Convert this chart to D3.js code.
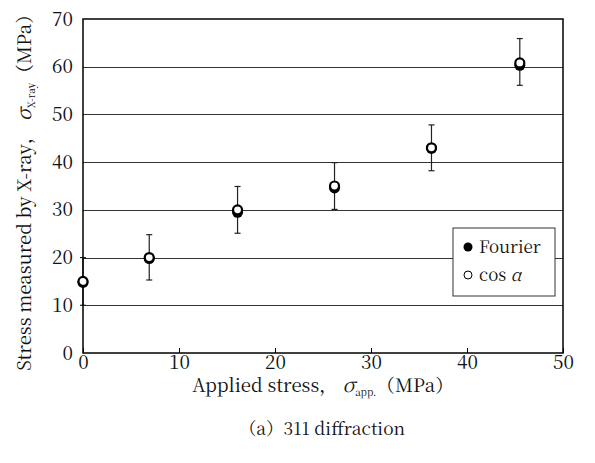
<!DOCTYPE html>
<html>
<head>
<meta charset="utf-8">
<script src="https://cdn.jsdelivr.net/npm/d3@7"></script>
<style>
  body { margin: 0; background: #fff; }
</style>
</head>
<body>
<div id="chart-area"></div>
<script>
// data
const appliedStress = [0, 6.9, 16.1, 26.2, 36.3, 45.5]
const fourier = [14.8, 19.8, 29.5, 34.6, 42.9, 60.3]
const cosAlpha = [15, 20, 30, 35, 43, 60.8]
const errLow = [10, 15.3, 25.1, 30.1, 38.2, 56.1]
const errHigh = [20, 24.8, 34.9, 39.9, 47.8, 65.9]
const xTicks = [0, 10, 20, 30, 40, 50]
const yTicks = [0, 10, 20, 30, 40, 50, 60, 70]

const serif = "'Noto Serif CJK JP', 'Liberation Serif', serif"

const chartMargin = { left: 83, right: 32, top: 19, bottom: 110 }
const chartWidth = 595 - chartMargin.left - chartMargin.right
const chartHeight = 463 - chartMargin.top - chartMargin.bottom

const svg = d3.select("#chart-area").append("svg")
  .attr("width", 595)
  .attr("height", 463)

const g = svg.append("g")
  .attr("transform", `translate(${chartMargin.left}, ${chartMargin.top})`)

const x = d3.scaleLinear().domain([0, 50]).range([0, chartWidth])
const y = d3.scaleLinear().domain([0, 70]).range([chartHeight, 0])

// grid lines
g.selectAll(".grid")
  .data(yTicks.filter(d => d > 0 && d < 70))
  .enter().append("line")
  .attr("x1", 0)
  .attr("x2", chartWidth)
  .attr("y1", d => Math.round(y(d)) + 0.5)
  .attr("y2", d => Math.round(y(d)) + 0.5)
  .attr("stroke", "#333")
  .attr("stroke-width", 1)

// x ticks (inward) and labels
const xAxisCall = d3.axisBottom(x)
  .tickValues(xTicks)
  .tickSizeInner(-5)
  .tickSizeOuter(0)
  .tickPadding(2)
const xAxis = g.append("g")
  .attr("transform", `translate(0, ${chartHeight})`)
  .call(xAxisCall)
xAxis.select(".domain").remove()
xAxis.selectAll("line").attr("stroke", "#000")
xAxis.selectAll("text")
  .style("font-family", serif)
  .style("font-size", "19px")
  .attr("fill", "#111")

// y labels
const yAxisCall = d3.axisLeft(y)
  .tickValues(yTicks)
  .tickSize(0)
  .tickPadding(10)
const yAxis = g.append("g").call(yAxisCall)
yAxis.select(".domain").remove()
yAxis.selectAll("text")
  .style("font-family", serif)
  .style("font-size", "19px")
  .attr("fill", "#111")

// error bars
const errs = appliedStress.map((d, i) => ({ x: d, lo: errLow[i], hi: errHigh[i] }))
const eb = g.selectAll(".err").data(errs).enter().append("g")
eb.append("line")
  .attr("x1", d => x(d.x)).attr("x2", d => x(d.x))
  .attr("y1", d => y(d.lo)).attr("y2", d => y(d.hi))
  .attr("stroke", "#222").attr("stroke-width", 1.2)
eb.selectAll(".cap").data(d => [[d.x, d.lo], [d.x, d.hi]])
  .enter().append("line")
  .attr("x1", d => x(d[0]) - 3).attr("x2", d => x(d[0]) + 3)
  .attr("y1", d => y(d[1])).attr("y2", d => y(d[1]))
  .attr("stroke", "#222").attr("stroke-width", 1.2)

// frame
g.append("rect")
  .attr("width", chartWidth)
  .attr("height", chartHeight)
  .attr("fill", "none")
  .attr("stroke", "#000")
  .attr("stroke-width", 1.5)

// points
g.selectAll(".fourier").data(appliedStress).enter().append("circle")
  .attr("cx", d => x(d))
  .attr("cy", (d, i) => y(fourier[i]))
  .attr("r", 5.5)
  .attr("fill", "#000")

g.selectAll(".cos").data(appliedStress).enter().append("circle")
  .attr("cx", d => x(d))
  .attr("cy", (d, i) => y(cosAlpha[i]))
  .attr("r", 4.5)
  .attr("fill", "#fff")
  .attr("stroke", "#000")
  .attr("stroke-width", 2.2)

// legend
const legend = g.append("g").attr("transform", "translate(370, 209)")
legend.append("rect")
  .attr("width", 102).attr("height", 68)
  .attr("fill", "#fff").attr("stroke", "#333").attr("stroke-width", 1)
legend.append("circle").attr("cx", 15).attr("cy", 19).attr("r", 4.5).attr("fill", "#000")
legend.append("text").attr("x", 26).attr("y", 25)
  .style("font-family", serif).style("font-size", "17px").attr("fill", "#111")
  .text("Fourier")
legend.append("circle").attr("cx", 15).attr("cy", 47).attr("r", 4)
  .attr("fill", "#fff").attr("stroke", "#000").attr("stroke-width", 1)
const cosText = legend.append("text").attr("x", 26).attr("y", 53)
  .style("font-family", serif).style("font-size", "17px").attr("fill", "#111")
cosText.append("tspan").text("cos ")
cosText.append("tspan").style("font-style", "italic").text("α")

// axis titles
const xTitle = svg.append("text")
  .attr("x", 323).attr("y", 392)
  .attr("text-anchor", "middle")
  .style("font-family", serif).style("font-size", "18.6px").attr("fill", "#111")
xTitle.append("tspan").text("Applied stress， ")
xTitle.append("tspan").style("font-style", "italic").style("font-size", "20px").text("σ")
xTitle.append("tspan").style("font-size", "10px").attr("dy", 4).text("app.")
xTitle.append("tspan").attr("dy", -4).text("（MPa）")

const yTitle = svg.append("text")
  .attr("transform", "translate(31, 188) rotate(-90)")
  .attr("text-anchor", "middle")
  .style("font-family", serif).style("font-size", "18.6px").attr("fill", "#111")
yTitle.append("tspan").text("Stress measured by X-ray， ")
yTitle.append("tspan").style("font-style", "italic").style("font-size", "20px").text("σ")
yTitle.append("tspan").style("font-size", "10px").attr("dy", 4).text("X-ray")
yTitle.append("tspan").attr("dy", -4).text("（MPa）")

svg.append("text")
  .attr("x", 322).attr("y", 435)
  .attr("text-anchor", "middle")
  .style("font-family", serif).style("font-size", "17.5px").attr("fill", "#111")
  .text("（a）311 diffraction")
</script>
</body>
</html>
